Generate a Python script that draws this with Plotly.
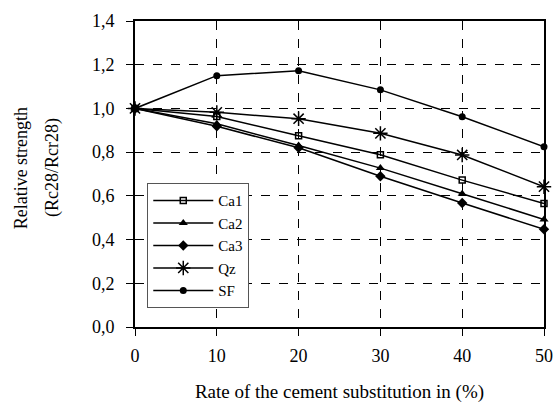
import plotly.graph_objects as go

# Substitution rate (%)
rate = [0, 10, 20, 30, 40, 50]

# Relative strength Rc28/Rcr28 per addition
ca1 = [1.00, 0.963, 0.875, 0.788, 0.672, 0.565]
ca2 = [1.00, 0.930, 0.830, 0.727, 0.610, 0.492]
ca3 = [1.00, 0.918, 0.820, 0.690, 0.567, 0.447]
qz = [1.00, 0.982, 0.953, 0.886, 0.787, 0.642]
sf = [1.00, 1.150, 1.172, 1.085, 0.962, 0.825]

series = [
    ("Ca1", ca1, dict(symbol="square-open", size=6, line=dict(width=1.5))),
    ("Ca2", ca2, dict(symbol="triangle-up", size=8)),
    ("Ca3", ca3, dict(symbol="diamond", size=8)),
    ("Qz", qz, dict(symbol="asterisk-open", size=12, line=dict(width=1.5))),
    ("SF", sf, dict(symbol="circle", size=7)),
]

FONT = "'Liberation Serif', 'Times New Roman', serif"


def serif(size):
    return dict(family=FONT, size=size, color="black")


fig = go.Figure()
for name, vals, marker in series:
    marker = dict(marker, color="black")
    fig.add_trace(go.Scatter(
        x=rate, y=vals, mode="lines+markers", name=name,
        line=dict(color="black", width=1.5),
        marker=marker,
        cliponaxis=False,
    ))

axis_style = dict(
    ticks="outside", ticklen=7, tickcolor="black", showline=True,
    linecolor="black", linewidth=2, mirror=True, showgrid=True,
    gridcolor="black", gridwidth=1, griddash="dash", zeroline=False,
    tickfont=serif(18), automargin=False,
)

fig.update_layout(
    width=556, height=403,
    margin=dict(l=135, r=12, t=21, b=76),
    plot_bgcolor="white", paper_bgcolor="white",
    separators=",.",
    font=serif(18),
    showlegend=True,
    legend=dict(
        x=0.03, y=0.47, xanchor="left", yanchor="top",
        bgcolor="white", bordercolor="#555", borderwidth=1,
        font=serif(15),
        tracegroupgap=0, itemwidth=60,
    ),
    xaxis=dict(
        axis_style, range=[0, 50], tickvals=rate, ticklabelstandoff=4,
        title=dict(text="Rate of the cement substitution in (%)",
                   font=serif(19), standoff=24),
    ),
    yaxis=dict(axis_style, range=[0, 1.4], dtick=0.2, tickformat=".1f",
               ticklabelstandoff=8),
    annotations=[
        dict(text="Relative strength", textangle=-90, xref="paper",
             yref="paper", x=-0.28, y=0.52, showarrow=False,
             xanchor="center", yanchor="middle", font=serif(18)),
        dict(text="(Rc28/Rcr28)", textangle=-90, xref="paper",
             yref="paper", x=-0.2, y=0.52, showarrow=False,
             xanchor="center", yanchor="middle", font=serif(18)),
    ],
)

# drop the default page margin so the figure sits at the window origin
fig.write_html("out.html", config={"displayModeBar": False},
               post_script="document.body.style.margin='0';")
